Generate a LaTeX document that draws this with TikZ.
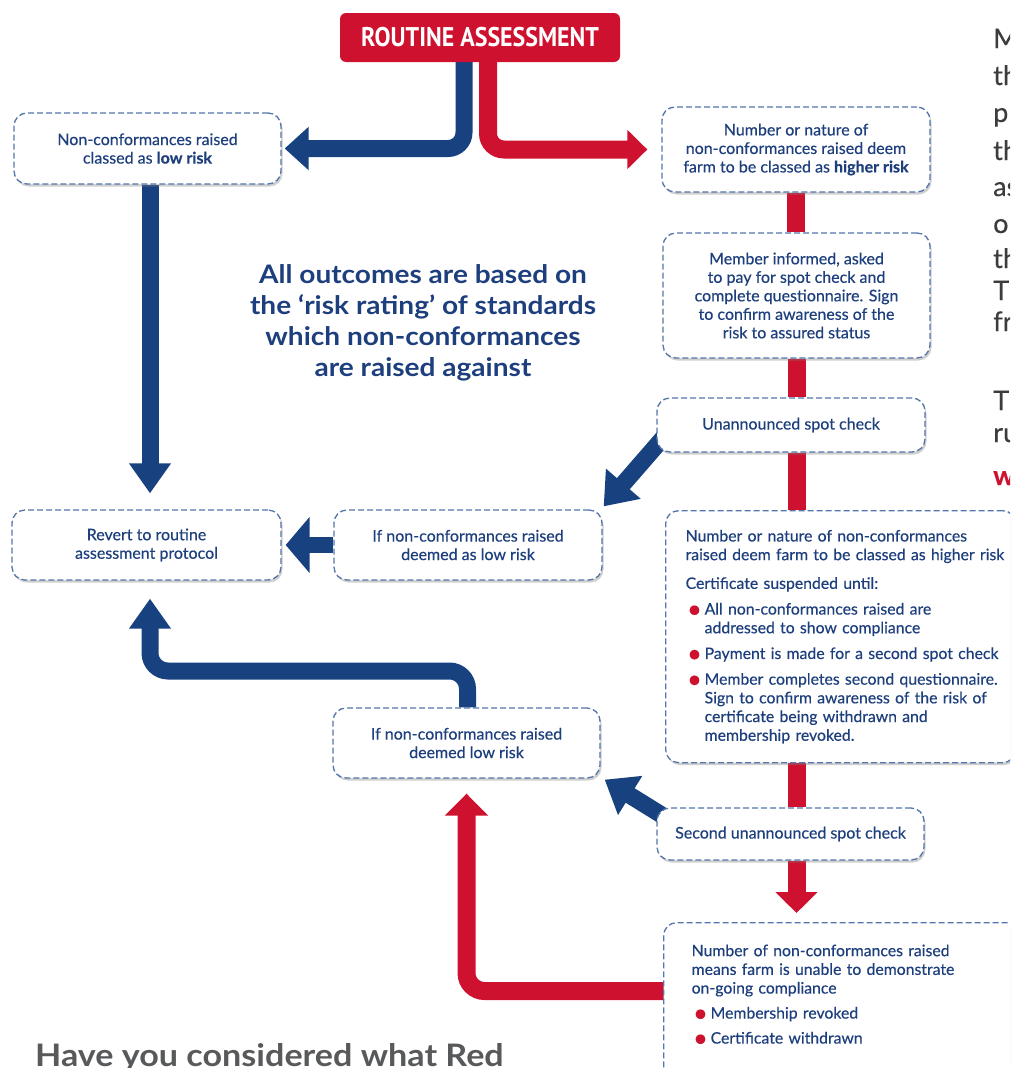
\documentclass[tikz,border=0pt]{standalone}
\usepackage{fontspec}
\setmainfont{Lato}[FakeBold=0.4]
\newfontfamily\headfont{PT Sans}
\newfontfamily\statefont{Lato}[FakeStretch=1.1]
\usetikzlibrary{arrows.meta,shadows,calc,backgrounds}
\definecolor{nblue}{HTML}{17427F}
\definecolor{tblue}{HTML}{1E3F7D}
\definecolor{nred}{HTML}{CF1130}
\definecolor{dashc}{HTML}{5476AA}
\definecolor{graytxt}{HTML}{58595B}
\definecolor{paratxt}{HTML}{3C3C3C}
\newcommand{\rbul}{\hangindent=19pt\hangafter=1\noindent\makebox[19pt][l]{\hspace{1.5pt}\textcolor{nred}{\raisebox{-3.2pt}{\scalebox{1.6}{\textbullet}}}}}
\tikzset{
  box/.style={draw=dashc, dash pattern=on 6pt off 3pt, line width=1.3pt,
    rounded corners=13pt, fill=white,
    drop shadow={opacity=0.38, shadow xshift=1.5pt, shadow yshift=-2.5pt},
    text=tblue, align=center, inner sep=0pt,
    font=\fontsize{16}{18.5}\selectfont},
  headbox/.style={fill=nred, rounded corners=6pt, text=white, inner sep=0pt,
    minimum width=280pt, minimum height=49pt},
  barb/.style={line width=17pt, nblue},
  barr/.style={line width=18pt, nred},
  sidetxt/.style={anchor=base west, inner sep=0pt, text=paratxt,
    font=\fontsize{27}{30}\selectfont},
}
\begin{document}
\begin{tikzpicture}[x=1pt,y=-1pt]
\useasboundingbox (0,0) rectangle (1010,1068);
\clip (0,0) rectangle (1010,1068);

% header
\node[headbox] (head) at (480,37.5)
  {\headfont\bfseries\fontsize{27}{30}\selectfont\scalebox{0.886}[1]{ROUTINE ASSESSMENT}};

% boxes
\node[box, minimum width=267pt, minimum height=71pt] (low) at (147.5,148.5)
  {Non-conformances raised\\classed as \textbf{low risk}};
\node[box, minimum width=268pt, minimum height=85pt] (high) at (796,149.5)
  {Number or nature of\\non-conformances raised deem\\farm to be classed as \textbf{higher risk}};
\node[box, minimum width=267pt, minimum height=125pt] (member) at (796.5,295.5)
  {Member informed, asked\\to pay for spot check and\\complete questionnaire. Sign\\to confirm awareness of the\\risk to assured status};
\node[box, minimum width=268pt, minimum height=54pt] (spot) at (791,425)
  {Unannounced spot check};
\node[box, anchor=north west, text width=330pt, align=left, inner xsep=10pt,
      minimum height=252pt, font=\fontsize{15.8}{18.7}\selectfont] (susp) at (665,510)
  {\leftskip=10pt\setlength{\parskip}{7pt}%
   Number or nature of non-conformances\break raised deem farm to be classed as higher risk\par
   \vspace{3pt}Certificate suspended until:\par
   \rbul All non-conformances raised are\break addressed to show compliance\par
   \rbul Payment is made for a second spot check\par
   \rbul Member completes second questionnaire.\break Sign to confirm awareness of the risk of\break certificate being withdrawn and\break membership revoked.\par};
\node[box, minimum width=267pt, minimum height=52pt] (spot2) at (790.5,834)
  {Second unannounced spot check};
\node[box, anchor=north west, text width=338pt, align=left, inner xsep=14pt,
      minimum height=170pt, font=\fontsize{15.8}{18.7}\selectfont] (revoke) at (663,922)
  {\leftskip=14pt\setlength{\parskip}{6.3pt}%
   Number of non-conformances raised\break means farm is unable to demonstrate\break on-going compliance\par
   \rbul Membership revoked\par
   \rbul Certificate withdrawn\par
   \vspace{24pt}};
\node[box, minimum width=267pt, minimum height=70pt] (low2) at (466.5,743)
  {If non-conformances raised\\deemed low risk};
\node[box, minimum width=269pt, minimum height=70pt] (rev) at (146.5,545)
  {Revert to routine\\assessment protocol};
\node[box, minimum width=268pt, minimum height=70pt] (usual) at (468,545)
  {If non-conformances raised\\deemed as low risk};

% central statement
\node[text=tblue, align=center, inner sep=0pt,
      font=\statefont\bfseries\fontsize{25.5}{31}\selectfont] (stmt) at (423,323)
  {All outcomes are based on\\the ‘risk rating’ of standards\\which non-conformances\\are raised against};

% connectors
\begin{pgfonlayer}{background}
\draw[barb, rounded corners=16pt, -{Triangle[width=42pt,length=24pt]}, shorten >=3pt]
  ([xshift=-16pt]head.south) |- (low.east);
\draw[barr, rounded corners=16pt, -{Triangle[width=38pt,length=20pt]}, shorten >=14pt]
  ([xshift=8pt]head.south) |- (high.east -| high.west);
\draw[barb, -{Triangle[width=40pt,length=30pt]}, shorten >=16pt]
  ([xshift=2.5pt]low.south) -- ([xshift=2.5pt]low.south |- rev.north);
\draw[barr] (high.south) -- (high.south |- member.north);
\draw[barr] (member.south) -- (member.south |- spot.north);
\draw[barr] (spot.south -| member.south) -- (member.south |- susp.north);
\draw[barr] (susp.south -| member.south) -- (member.south |- spot2.north);
\draw[barr, -{Triangle[width=41pt,length=21pt]}, shorten >=9pt]
  (spot2.south -| member.south) -- (member.south |- revoke.north);
\draw[barb, -{Triangle[width=44pt,length=30pt]}]
  ($(spot.west)+(18,0)$) -- ($(usual.north east)+(1,-3)$);
\draw[barb, -{Triangle[width=44pt,length=30pt]}]
  ($(spot2.west)+(23,-8)$) -- ($(low2.south east)+(4,1)$);
\draw[nblue, line width=16pt, -{Triangle[width=55pt,length=24pt]}, shorten >=4pt]
  (usual.west) -- (rev.east);
\coordinate (bend) at (150,671);
\draw[barb, rounded corners=18pt, -{Triangle[width=40pt,length=30pt]}, shorten >=18pt]
  ([xshift=1pt]low2.north) |- (bend) -- ([xshift=3.5pt]rev.south);
\draw[barr, rounded corners=18pt, -{Triangle[width=42pt,length=22pt]}, shorten >=15pt]
  ($(revoke.north west)+(10,69)$) -| (low2.south);
\end{pgfonlayer}

% cut-off page text at the right
\node[sidetxt] (r1) at (993,48) {M};
\node[sidetxt] (r2) at (993,85) {th};
\node[sidetxt] (r3) at (993,122) {p};
\node[sidetxt] (r4) at (993,160) {th};
\node[sidetxt] (r5) at (993,196) {as};
\node[sidetxt] (r6) at (993,233) {o};
\node[sidetxt] (r7) at (993,268) {th};
\node[sidetxt] (r8) at (993,300) {T};
\node[sidetxt] (r9) at (993,331) {fr};
\node[sidetxt] (r10) at (993,410) {T};
\node[sidetxt] (r11) at (993,442) {ru};
\node[sidetxt, text=nred, font=\bfseries\fontsize{27}{30}\selectfont] (r12) at (993,485) {w};

% cut-off heading at the bottom
\node[anchor=base west, inner sep=0pt, text=graytxt,
      font=\statefont\bfseries\fontsize{31}{36}\selectfont] (bottomhead) at (35,1066)
  {Have you considered what Red};
\end{tikzpicture}
\end{document}
